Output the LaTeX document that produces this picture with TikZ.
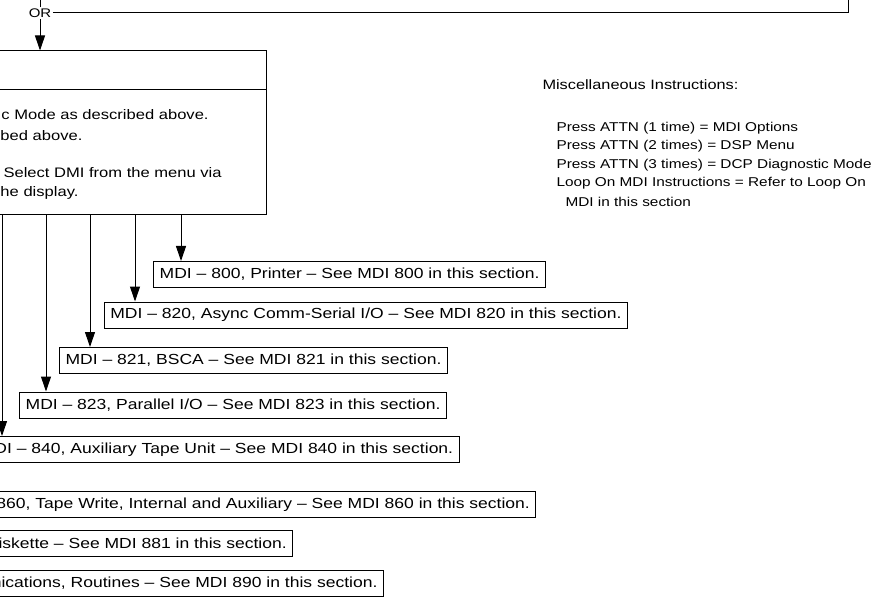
\documentclass[tikz,border=0pt]{standalone}
\usepackage{fontspec}
\setmainfont{Liberation Sans}[FakeStretch=1.2]
\usetikzlibrary{arrows.meta,positioning}

\tikzset{
  mdibox/.style={draw, inner xsep=6pt, inner ysep=0pt, minimum height=26pt, anchor=east, font=\fontsize{14.6}{17}\selectfont},
  flow/.style={-{Triangle[width=10pt,length=15pt]}},
  boxtext/.style={anchor=west, inner sep=0pt, font=\fontsize{13.8}{16}\selectfont},
  misctext/.style={anchor=west, inner sep=0pt, align=left, font=\fontsize{12.8}{18.5}\selectfont}
}

\begin{document}
\begin{tikzpicture}[x=1pt, y=-1pt, line width=1pt]
    \clip (0,0) rectangle (890,601);

    % OR branch
    \node (or) [inner sep=1pt, font=\fontsize{12.5}{14}\selectfont] at (40,13) {OR};
    \draw (or.north) -- (40,-2);
    \draw (or.east) -- (848,13) -- (848,-2);

    % DMI box
    \node (dmi) [draw, minimum width=271pt, minimum height=164pt, inner sep=0pt] at (130.5,133) {};
    \draw (dmi.west |- 0,90) -- (dmi.east |- 0,90);
    \draw[flow] (or.south) -- (dmi.north -| or.south);

    \node (l1) [boxtext] at (1,115) {c Mode as described above.};
    \node (l2) [boxtext] at (0,136) {bed above.};
    \node (l3) [boxtext] at (3,173) {Select DMI from the menu via};
    \node (l4) [boxtext] at (0,193) {he display.};

    % MDI boxes
    \node (m800) [mdibox] at (546,274.5) {MDI -- 800, Printer -- See MDI 800 in this section.};
    \node (m820) [mdibox] at (628,315) {MDI -- 820, Async Comm-Serial I/O -- See MDI 820 in this section.};
    \node (m821) [mdibox] at (448,360.5) {MDI -- 821, BSCA -- See MDI 821 in this section.};
    \node (m823) [mdibox] at (447,405) {MDI -- 823, Parallel I/O -- See MDI 823 in this section.};
    \node (m840) [mdibox, anchor=west] at (-12,449.5) {DI -- 840, Auxiliary Tape Unit -- See MDI 840 in this section.};
    \node (m860) [mdibox, anchor=west] at (-10,504.5) {860, Tape Write, Internal and Auxiliary -- See MDI 860 in this section.};
    \node (m881) [mdibox, anchor=west] at (-8,543.5) {iskette -- See MDI 881 in this section.};
    \node (m890) [mdibox] at (384,583.5) {nications, Routines -- See MDI 890 in this section.};

    % Arrows
    \foreach \x/\b in {181/m800, 135/m820, 90/m821, 46/m823, 2/m840} {
        \draw[flow] (dmi.south -| \x,0) -- (\b.north -| \x,0);
    }

    % Misc
    \node (misc) [misctext, font=\fontsize{13.6}{16}\selectfont] at (542,85) {Miscellaneous Instructions:};
    \node (attn1) [misctext] at (556,128) {Press ATTN (1 time) = MDI Options};
    \node (attn2) [misctext] at (556,146.5) {Press ATTN (2 times) = DSP Menu};
    \node (attn3) [misctext] at (556,165) {Press ATTN (3 times) = DCP Diagnostic Mode};
    \node (loop) [misctext] at (556,183.5) {Loop On MDI Instructions = Refer to Loop On};
    \node (loop2) [misctext] at (565,202) {MDI in this section};

\end{tikzpicture}
\end{document}
